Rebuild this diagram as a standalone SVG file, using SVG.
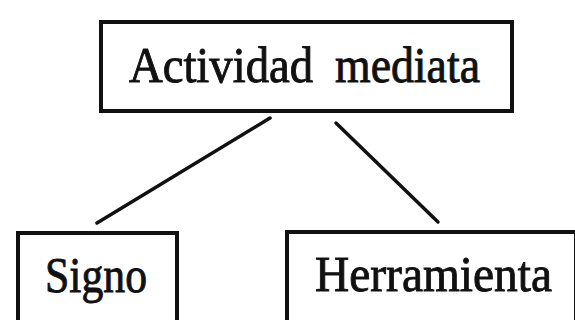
<svg xmlns="http://www.w3.org/2000/svg" width="575" height="320" viewBox="0 0 575 320">
<style>
.box{fill:#fff;stroke:#111;stroke-width:4}
.lbl{font-family:"Liberation Serif","DejaVu Serif",serif;font-size:50px;fill:#111;stroke:#111;stroke-width:0.9}
.conn{stroke:#111;stroke-width:3.5;fill:none;stroke-linecap:round}
</style>
<rect width="575" height="320" fill="#fff"/>
<g id="connectors">
<line class="conn" x1="270" y1="118" x2="97" y2="223"/>
<line class="conn" x1="336" y1="123" x2="438" y2="222"/>
</g>
<g id="node-actividad">
<rect class="box" x="101" y="22" width="411" height="89"/>
<text class="lbl" y="82"><tspan x="129" textLength="184" lengthAdjust="spacingAndGlyphs">Actividad</tspan> <tspan x="335" textLength="145" lengthAdjust="spacingAndGlyphs">mediata</tspan></text>
</g>
<g id="node-signo">
<rect class="box" x="18" y="233" width="159" height="100"/>
<text class="lbl" x="45" y="292" textLength="102" lengthAdjust="spacingAndGlyphs">Signo</text>
</g>
<g id="node-herramienta">
<rect class="box" x="287" y="232" width="289" height="100"/>
<text class="lbl" x="315" y="291" textLength="237" lengthAdjust="spacingAndGlyphs">Herramienta</text>
</g>
</svg>
